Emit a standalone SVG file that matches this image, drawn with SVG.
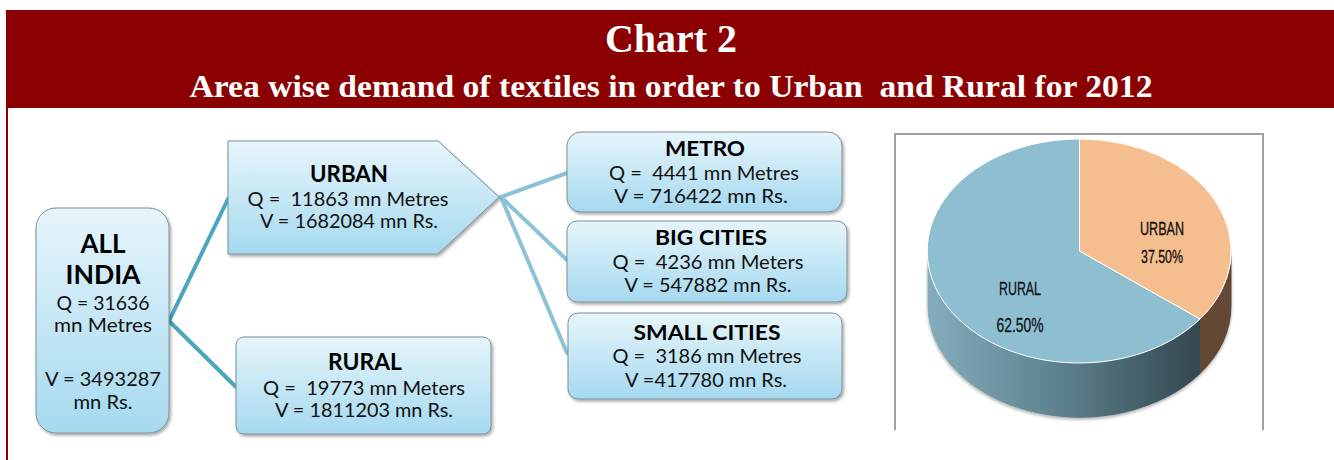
<svg xmlns="http://www.w3.org/2000/svg" width="1334" height="460" viewBox="0 0 1334 460">
<defs>
<style>
.t1{font-family:"Liberation Serif","DejaVu Serif",serif;font-weight:bold;fill:#ffffff;text-anchor:middle}
.hd{font-family:Lato,"Liberation Sans",sans-serif;font-weight:bold;fill:#000;text-anchor:middle}
.bd{font-family:Lato,"Liberation Sans",sans-serif;fill:#111;text-anchor:middle;font-size:20px}
.pl{font-family:"Liberation Sans Narrow","Liberation Sans",sans-serif;fill:#111;text-anchor:middle;stroke:#111;stroke-width:0.3}
.box{fill:url(#bg);stroke:#7d9098;stroke-width:1;filter:url(#sh)}
.c1{stroke:#4aa6bf;stroke-width:4;fill:none;stroke-linecap:round}
.c2{stroke:#8cc2d5;stroke-width:4;fill:none;stroke-linecap:round}
</style>
<linearGradient id="bg" x1="0" y1="0" x2="0" y2="1">
<stop offset="0" stop-color="#e6f5fb"/>
<stop offset="1" stop-color="#a5d9ef"/>
</linearGradient>
<linearGradient id="rs" x1="0" y1="0" x2="1" y2="0">
<stop offset="0" stop-color="#86adbd"/>
<stop offset="0.5" stop-color="#5b7f8c"/>
<stop offset="1" stop-color="#34474f"/>
</linearGradient>
<filter id="sh" x="-10%" y="-10%" width="125%" height="125%">
<feDropShadow dx="1.5" dy="2" stdDeviation="1.5" flood-color="#000" flood-opacity="0.35"/>
</filter>
<filter id="psh" x="-10%" y="-10%" width="120%" height="130%">
<feDropShadow dx="0" dy="2" stdDeviation="1.5" flood-color="#000" flood-opacity="0.3"/>
</filter>
</defs>

<rect x="0" y="0" width="1334" height="460" fill="#ffffff"/>

<g id="header">
<rect x="7" y="10" width="1327" height="98" fill="#8b0101"/>
<line x1="7" y1="10" x2="7" y2="460" stroke="#8b0101" stroke-width="2"/>
<text class="t1" x="671" y="52" font-size="40" textLength="132" lengthAdjust="spacingAndGlyphs">Chart 2</text>
<text class="t1" x="671" y="97" font-size="31" textLength="963" lengthAdjust="spacingAndGlyphs" xml:space="preserve">Area wise demand of textiles in order to Urban  and Rural for 2012</text>
</g>

<g id="connectors">
<line class="c1" x1="169" y1="321" x2="228" y2="199"/>
<line class="c1" x1="169" y1="321" x2="236" y2="387"/>
<line class="c2" x1="501" y1="197" x2="567" y2="173"/>
<line class="c2" x1="501" y1="197" x2="567" y2="260"/>
<line class="c2" x1="501" y1="197" x2="567" y2="353"/>
</g>

<g id="all-india">
<rect class="box" x="36" y="208" width="133" height="225" rx="20"/>
<text class="hd" x="103" y="253" font-size="26" textLength="45" lengthAdjust="spacingAndGlyphs">ALL</text>
<text class="hd" x="103" y="284" font-size="26" textLength="75" lengthAdjust="spacingAndGlyphs">INDIA</text>
<text class="bd" x="103" y="310" textLength="93" lengthAdjust="spacingAndGlyphs">Q = 31636</text>
<text class="bd" x="103" y="332" textLength="98" lengthAdjust="spacingAndGlyphs">mn Metres</text>
<text class="bd" x="103" y="386" font-size="19" textLength="116" lengthAdjust="spacingAndGlyphs">V = 3493287</text>
<text class="bd" x="103" y="409" font-size="19" textLength="59" lengthAdjust="spacingAndGlyphs">mn Rs.</text>
</g>

<g id="urban">
<path class="box" d="M228,141 L438,141 L499,197 L438,254 L228,254 Z"/>
<text class="hd" x="349" y="182" font-size="22" textLength="78" lengthAdjust="spacingAndGlyphs">URBAN</text>
<text class="bd" x="348" y="206" textLength="201" lengthAdjust="spacingAndGlyphs" xml:space="preserve">Q =  11863 mn Metres</text>
<text class="bd" x="349" y="228" textLength="178" lengthAdjust="spacingAndGlyphs">V = 1682084 mn Rs.</text>
</g>

<g id="rural">
<rect class="box" x="236" y="337" width="255" height="97" rx="8"/>
<text class="hd" x="365" y="370" font-size="22" textLength="74" lengthAdjust="spacingAndGlyphs">RURAL</text>
<text class="bd" x="364" y="395" textLength="202" lengthAdjust="spacingAndGlyphs" xml:space="preserve">Q =  19773 mn Meters</text>
<text class="bd" x="364" y="417" textLength="178" lengthAdjust="spacingAndGlyphs">V = 1811203 mn Rs.</text>
</g>

<g id="metro">
<rect class="box" x="567" y="132" width="275" height="80" rx="14"/>
<text class="hd" x="705" y="156" font-size="21" textLength="80" lengthAdjust="spacingAndGlyphs">METRO</text>
<text class="bd" x="704" y="180" textLength="190" lengthAdjust="spacingAndGlyphs" xml:space="preserve">Q =  4441 mn Metres</text>
<text class="bd" x="701" y="203" textLength="174" lengthAdjust="spacingAndGlyphs">V = 716422 mn Rs.</text>
</g>

<g id="big-cities">
<rect class="box" x="567" y="221" width="280" height="81" rx="10"/>
<text class="hd" x="711" y="245" font-size="21" textLength="112" lengthAdjust="spacingAndGlyphs">BIG CITIES</text>
<text class="bd" x="708" y="269" textLength="191" lengthAdjust="spacingAndGlyphs" xml:space="preserve">Q =  4236 mn Meters</text>
<text class="bd" x="708" y="292" textLength="167" lengthAdjust="spacingAndGlyphs">V = 547882 mn Rs.</text>
</g>

<g id="small-cities">
<rect class="box" x="568" y="313" width="274" height="86" rx="10"/>
<text class="hd" x="707" y="340" font-size="21" textLength="147" lengthAdjust="spacingAndGlyphs">SMALL CITIES</text>
<text class="bd" x="707" y="363" textLength="189" lengthAdjust="spacingAndGlyphs" xml:space="preserve">Q =  3186 mn Metres</text>
<text class="bd" x="706" y="387" textLength="162" lengthAdjust="spacingAndGlyphs">V =417780 mn Rs.</text>
</g>

<g id="pie-chart">
<path d="M895,430 L895,134 L1263,134 L1263,430" fill="#ffffff" stroke="#a0a0a0" stroke-width="2"/>
<g filter="url(#psh)">
<path d="M1200,319 A152,112 0 0 1 927.5,251 L927.5,306 A152,112 0 0 0 1200,374 Z" fill="url(#rs)"/>
<path d="M1231.5,251 A152,112 0 0 1 1200,319 L1200,374 A152,112 0 0 0 1231.5,306 Z" fill="#634a35"/>
</g>
<path d="M1079.5,251 L1200,319 A152,112 0 1 1 1079.5,139 Z" fill="#8ebfd1" stroke="#ffffff" stroke-width="1"/>
<path d="M1079.5,251 L1079.5,139 A152,112 0 0 1 1200,319 Z" fill="#f5be8e" stroke="#ffffff" stroke-width="1"/>
<text class="pl" x="1162" y="235" font-size="18" textLength="44" lengthAdjust="spacingAndGlyphs">URBAN</text>
<text class="pl" x="1162" y="263" font-size="18" textLength="42" lengthAdjust="spacingAndGlyphs">37.50%</text>
<text class="pl" x="1020" y="295" font-size="19" textLength="42" lengthAdjust="spacingAndGlyphs">RURAL</text>
<text class="pl" x="1020" y="332" font-size="21" textLength="47" lengthAdjust="spacingAndGlyphs">62.50%</text>
</g>
</svg>
